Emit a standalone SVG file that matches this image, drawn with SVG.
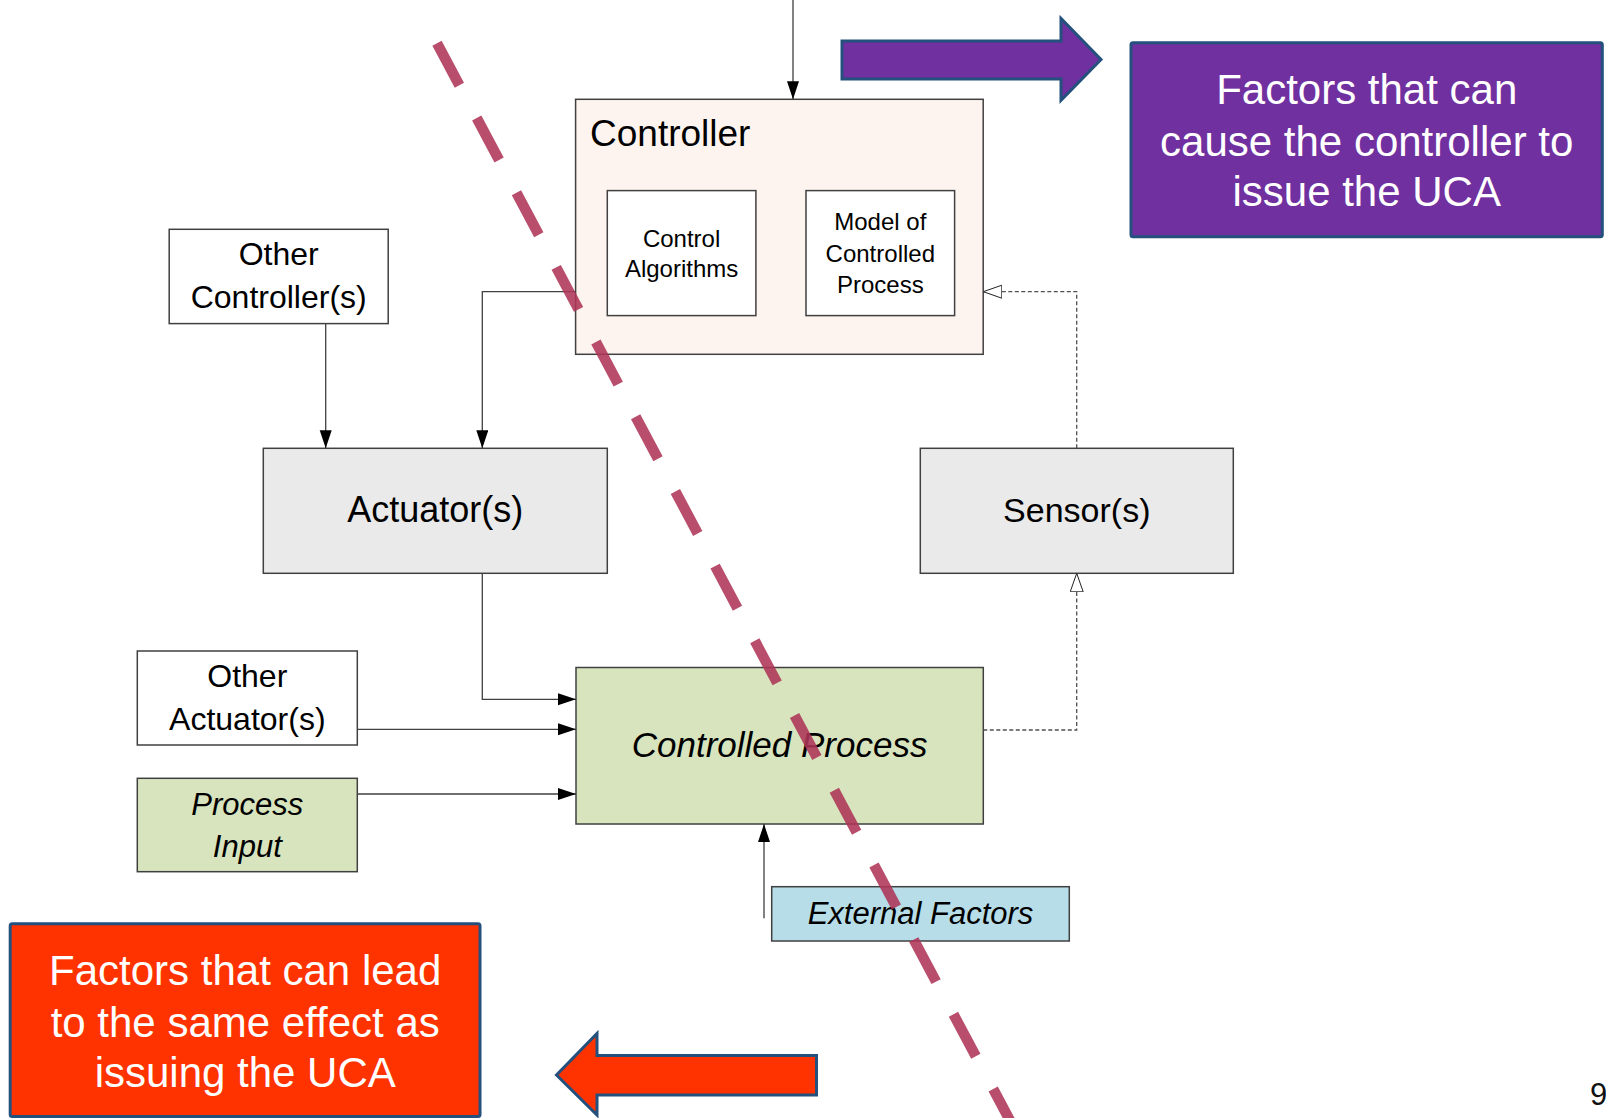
<svg xmlns="http://www.w3.org/2000/svg" width="1606" height="1118" viewBox="0 0 1606 1118">
<defs>
<style>
.box{stroke:#404040;stroke-width:1.5}
.t{font-family:"Liberation Sans",Arial,sans-serif;fill:#000;text-anchor:middle}
.i{font-style:italic}
.w{font-family:"Liberation Sans",Arial,sans-serif;fill:#fff;text-anchor:middle;font-size:42px}
.c{fill:none;stroke:#404040;stroke-width:1.3}
.d{fill:none;stroke:#505050;stroke-width:1.3;stroke-dasharray:4 2.5}
.call{stroke:#24507E;stroke-width:3;stroke-linejoin:miter}
</style>
<marker id="ah" markerUnits="userSpaceOnUse" markerWidth="20" markerHeight="14" refX="18" refY="6" orient="auto">
<path d="M0,0 L18,6 L0,12 Z" fill="#000"/>
</marker>
<marker id="oh" markerUnits="userSpaceOnUse" markerWidth="22" markerHeight="16" refX="19" refY="7" orient="auto">
<path d="M0.5,0.5 L19,7 L0.5,13.5 Z" fill="#fff" stroke="#222" stroke-width="1"/>
</marker>
</defs>
<rect width="1606" height="1118" fill="#fff"/>

<g id="controller">
<rect class="box" x="575.6" y="99.3" width="407.6" height="255" fill="#FEF4EF"/>
<text class="t" x="590" y="146" font-size="37" style="text-anchor:start">Controller</text>
</g>
<g id="control-algorithms">
<rect class="box" x="607.3" y="190.6" width="148.6" height="125" fill="#fff"/>
<text class="t" x="681.6" y="247" font-size="24">Control</text>
<text class="t" x="681.6" y="277" font-size="24">Algorithms</text>
</g>
<g id="process-model">
<rect class="box" x="806" y="190.6" width="148.6" height="125" fill="#fff"/>
<text class="t" x="880.3" y="230" font-size="24">Model of</text>
<text class="t" x="880.3" y="262" font-size="24">Controlled</text>
<text class="t" x="880.3" y="293" font-size="24">Process</text>
</g>
<g id="other-controllers">
<rect class="box" x="169.2" y="229.3" width="219" height="94.3" fill="#fff"/>
<text class="t" x="278.7" y="265" font-size="32">Other</text>
<text class="t" x="278.7" y="308" font-size="32">Controller(s)</text>
</g>
<g id="actuators">
<rect class="box" x="263.3" y="448.3" width="344" height="125" fill="#EAEAEA"/>
<text class="t" x="435.3" y="522" font-size="36">Actuator(s)</text>
</g>
<g id="sensors">
<rect class="box" x="920.3" y="448.3" width="313" height="125" fill="#EAEAEA"/>
<text class="t" x="1076.8" y="522" font-size="34">Sensor(s)</text>
</g>
<g id="other-actuators">
<rect class="box" x="137.3" y="651" width="220" height="94" fill="#fff"/>
<text class="t" x="247.3" y="687" font-size="32">Other</text>
<text class="t" x="247.3" y="730" font-size="32">Actuator(s)</text>
</g>
<g id="process-input">
<rect class="box" x="137.3" y="778.3" width="220" height="93.4" fill="#D7E4BD"/>
<text class="t i" x="247.3" y="815" font-size="31">Process</text>
<text class="t i" x="247.3" y="857" font-size="31">Input</text>
</g>
<g id="controlled-process">
<rect class="box" x="576" y="667.5" width="407.3" height="156.5" fill="#D7E4BD"/>
<text class="t i" x="779.6" y="757" font-size="35">Controlled Process</text>
</g>
<g id="external-factors">
<rect class="box" x="771.7" y="886.7" width="297.6" height="54.3" fill="#B7DDE8"/>
<text class="t i" x="920.5" y="924" font-size="31">External Factors</text>
</g>

<g id="connectors">
<path class="c" d="M793,0 V99.3" marker-end="url(#ah)"/>
<path class="c" d="M575.6,291.7 H482.3 V448.3" marker-end="url(#ah)"/>
<path class="c" d="M325.7,323.6 V448.3" marker-end="url(#ah)"/>
<path class="c" d="M482.3,573.3 V699.3 H576" marker-end="url(#ah)"/>
<path class="c" d="M357.3,729.3 H576" marker-end="url(#ah)"/>
<path class="c" d="M357.3,794 H576" marker-end="url(#ah)"/>
<path class="c" d="M764,918.3 V824" marker-end="url(#ah)"/>
<path class="d" d="M983.3,730 H1076.7 V573.3" marker-end="url(#oh)"/>
<path class="d" d="M1076.7,448.3 V291.7 H983.3" marker-end="url(#oh)"/>
</g>

<g id="uca-cause-callout">
<path class="call" d="M842,41 H1061 V18.4 L1101,59.5 L1061,100.4 V79 H842 Z" fill="#7030A0"/>
<rect class="call" x="1131" y="42.7" width="471.3" height="194" fill="#7030A0" rx="2"/>
<text class="w" x="1366.7" y="104">Factors that can</text>
<text class="w" x="1366.7" y="156">cause the controller to</text>
<text class="w" x="1366.7" y="206">issue the UCA</text>
</g>

<g id="uca-effect-callout">
<path class="call" d="M816.5,1055.5 H597 V1033.5 L556.5,1075 L597,1115 V1095 H816.5 Z" fill="#FF3300"/>
<rect class="call" x="10.2" y="923.8" width="469.8" height="192.7" fill="#FF3300" rx="2"/>
<text class="w" x="245.2" y="985">Factors that can lead</text>
<text class="w" x="245.2" y="1036.5">to the same effect as</text>
<text class="w" x="245.2" y="1086.5">issuing the UCA</text>
</g>

<g id="boundary">
<path d="M437,43.3 L1015,1130" fill="none" stroke="#AE3458" stroke-opacity="0.88" stroke-width="10.5" stroke-dasharray="47.6 37"/>
</g>

<text x="1590" y="1105" font-family="'Liberation Sans',Arial,sans-serif" font-size="31" fill="#111">9</text>
</svg>
